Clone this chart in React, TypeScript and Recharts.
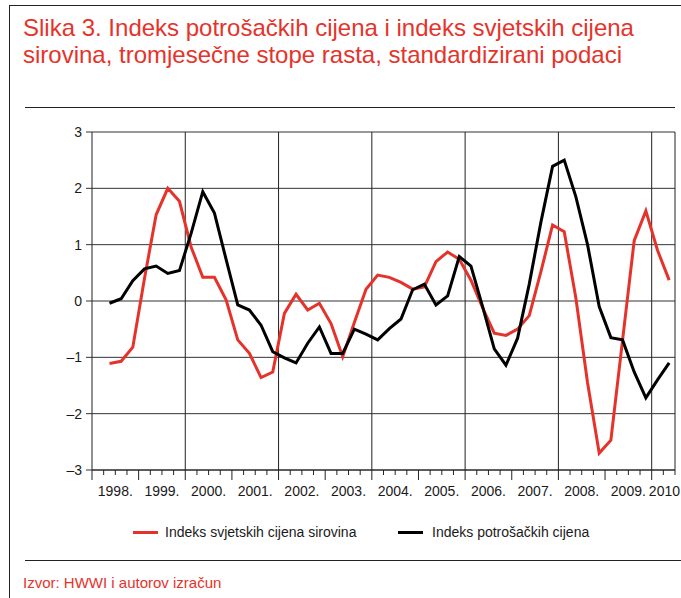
import React from 'react';
import {
  LineChart,
  Line,
  XAxis,
  YAxis,
  CartesianGrid,
  ReferenceLine
} from 'recharts';

// quarters 1998 Q2 .. 2010 Q2, quarterly growth rates, standardized
const firstYear = 1998;
const firstQuarter = 2;

const sirovine = [
  -1.11, -1.07, -0.82, 0.4, 1.53, 2.0, 1.77, 0.96, 0.42, 0.42, 0.02,
  -0.69, -0.93, -1.36, -1.26, -0.22, 0.12, -0.16, -0.04, -0.4, -0.99,
  -0.38, 0.21, 0.46, 0.42, 0.33, 0.21, 0.25, 0.7, 0.87, 0.74, 0.37,
  -0.12, -0.57, -0.61, -0.5, -0.26, 0.52, 1.35, 1.23, 0.05, -1.45,
  -2.7, -2.47, -0.7, 1.07, 1.6, 0.9, 0.37
];

const potrosacke = [
  -0.04, 0.04, 0.36, 0.57, 0.62, 0.49, 0.54, 1.2, 1.94, 1.56, 0.74,
  -0.07, -0.16, -0.43, -0.9, -1.01, -1.1, -0.75, -0.46, -0.93, -0.93,
  -0.5, -0.59, -0.69, -0.49, -0.32, 0.2, 0.3, -0.07, 0.09, 0.79, 0.62,
  -0.1, -0.85, -1.14, -0.66, 0.3, 1.4, 2.39, 2.5, 1.85, 1.0, -0.1,
  -0.65, -0.69, -1.26, -1.72, -1.4, -1.1
];

const yearLabels = [
  '1998.', '1999.', '2000.', '2001.', '2002.', '2003.', '2004.',
  '2005.', '2006.', '2007.', '2008.', '2009.', '2010'
];

const yTicks = [-3, -2, -1, 0, 1, 2, 3];
const gridYears = [2000, 2002, 2004, 2006, 2008, 2010];

const RED = '#e5332b';
const TOTAL_Q = 50; // 1998 Q1 .. 2010 Q2

// quarter index from 1998 Q1 = 0, plotted at the middle of the quarter
const data = sirovine.map((v, i) => {
  const q = firstQuarter - 1 + i;
  return {
    label: `${firstYear + Math.floor(q / 4)} Q${(q % 4) + 1}`,
    pos: q + 0.5,
    sirovine: v,
    potrosacke: potrosacke[i]
  };
});

const xTicks = Array.from({ length: TOTAL_Q + 1 }, (_, i) => i);

const QuarterTick = (props: any) => {
  const { x, y, payload } = props;
  const v = payload.value as number;
  const len = v % 4 === 0 ? 10 : 5;
  let label: React.ReactNode = null;
  if (v === TOTAL_Q) {
    // last year is only half shown, label pushed against the right edge
    label = (
      <text x={x + 5} y={y + 26} textAnchor="end" fill="#1a1a1a" fontSize={14}>
        {yearLabels[yearLabels.length - 1]}
      </text>
    );
  } else if (v % 4 === 2) {
    label = (
      <text x={x} y={y + 26} textAnchor="middle" fill="#1a1a1a" fontSize={14}>
        {yearLabels[(v - 2) / 4]}
      </text>
    );
  }
  return (
    <g>
      <line x1={x} x2={x} y1={y} y2={y + len} stroke="#222" strokeWidth={1} />
      {label}
    </g>
  );
};

const fmtY = (v: number) => (v < 0 ? `\u2013${Math.abs(v)}` : `${v}`);

export default function App() {
  return (
    <div
      style={{
        position: 'absolute',
        left: 0,
        top: 0,
        width: 681,
        height: 598,
        overflow: 'hidden',
        background: '#fff',
        fontFamily: '"Liberation Sans", Arial, sans-serif'
      }}
    >
      {/* frame */}
      <div style={{ position: 'absolute', left: 9, top: 5, width: 1, height: 600, background: '#222' }} />
      <div style={{ position: 'absolute', left: 9, top: 5, width: 680, height: 1, background: '#222' }} />

      <div
        style={{
          position: 'absolute',
          left: 23,
          top: 14,
          color: RED,
          fontSize: 24,
          lineHeight: '27px',
          whiteSpace: 'nowrap'
        }}
      >
        Slika 3. Indeks potrošačkih cijena i indeks svjetskih cijena
        <br />
        sirovina, tromjesečne stope rasta, standardizirani podaci
      </div>

      <div style={{ position: 'absolute', left: 25, top: 107, width: 650, height: 1, background: '#222' }} />

      <div style={{ position: 'absolute', left: 0, top: 110 }}>
        <LineChart
          width={681}
          height={400}
          data={data}
          margin={{ top: 22, right: 6, left: 0, bottom: 10 }}
        >
          <CartesianGrid vertical={false} stroke="#333" strokeWidth={1} />
          <XAxis
            type="number"
            dataKey="pos"
            domain={[0, TOTAL_Q]}
            ticks={xTicks}
            interval={0}
            tickLine={false}
            tickSize={0}
            tickMargin={0}
            axisLine={{ stroke: '#222' }}
            tick={<QuarterTick />}
            height={30}
          />
          <YAxis
            type="number"
            domain={[-3, 3]}
            ticks={yTicks}
            interval={0}
            tickSize={6}
            tickMargin={4}
            tickFormatter={fmtY}
            axisLine={{ stroke: '#222' }}
            tickLine={{ stroke: '#333' }}
            tick={{ fill: '#1a1a1a', fontSize: 14 }}
            width={92}
          />
          {gridYears.map((yr) => (
            <ReferenceLine
              key={yr}
              x={(yr - firstYear) * 4}
              stroke="#222"
              strokeWidth={1}
              ifOverflow="visible"
            />
          ))}
          <ReferenceLine x={TOTAL_Q} stroke="#222" strokeWidth={1} ifOverflow="visible" />
          <Line
            type="linear"
            dataKey="sirovine"
            stroke={RED}
            strokeWidth={3}
            dot={false}
            isAnimationActive={false}
          />
          <Line
            type="linear"
            dataKey="potrosacke"
            stroke="#000"
            strokeWidth={3}
            dot={false}
            isAnimationActive={false}
          />
        </LineChart>
      </div>

      {/* legend */}
      <div style={{ position: 'absolute', left: 133, top: 531, width: 25, height: 3, background: RED }} />
      <div style={{ position: 'absolute', left: 165, top: 524, fontSize: 14, color: '#1a1a1a', whiteSpace: 'nowrap' }}>
        Indeks svjetskih cijena sirovina
      </div>
      <div style={{ position: 'absolute', left: 398, top: 531, width: 25, height: 3, background: '#000' }} />
      <div style={{ position: 'absolute', left: 432, top: 524, fontSize: 14, color: '#1a1a1a', whiteSpace: 'nowrap' }}>
        Indeks potrošačkih cijena
      </div>

      <div style={{ position: 'absolute', left: 25, top: 560, width: 656, height: 1, background: '#222' }} />
      <div style={{ position: 'absolute', left: 23, top: 574, fontSize: 15, color: RED, whiteSpace: 'nowrap' }}>
        Izvor: HWWI i autorov izračun
      </div>
    </div>
  );
}
